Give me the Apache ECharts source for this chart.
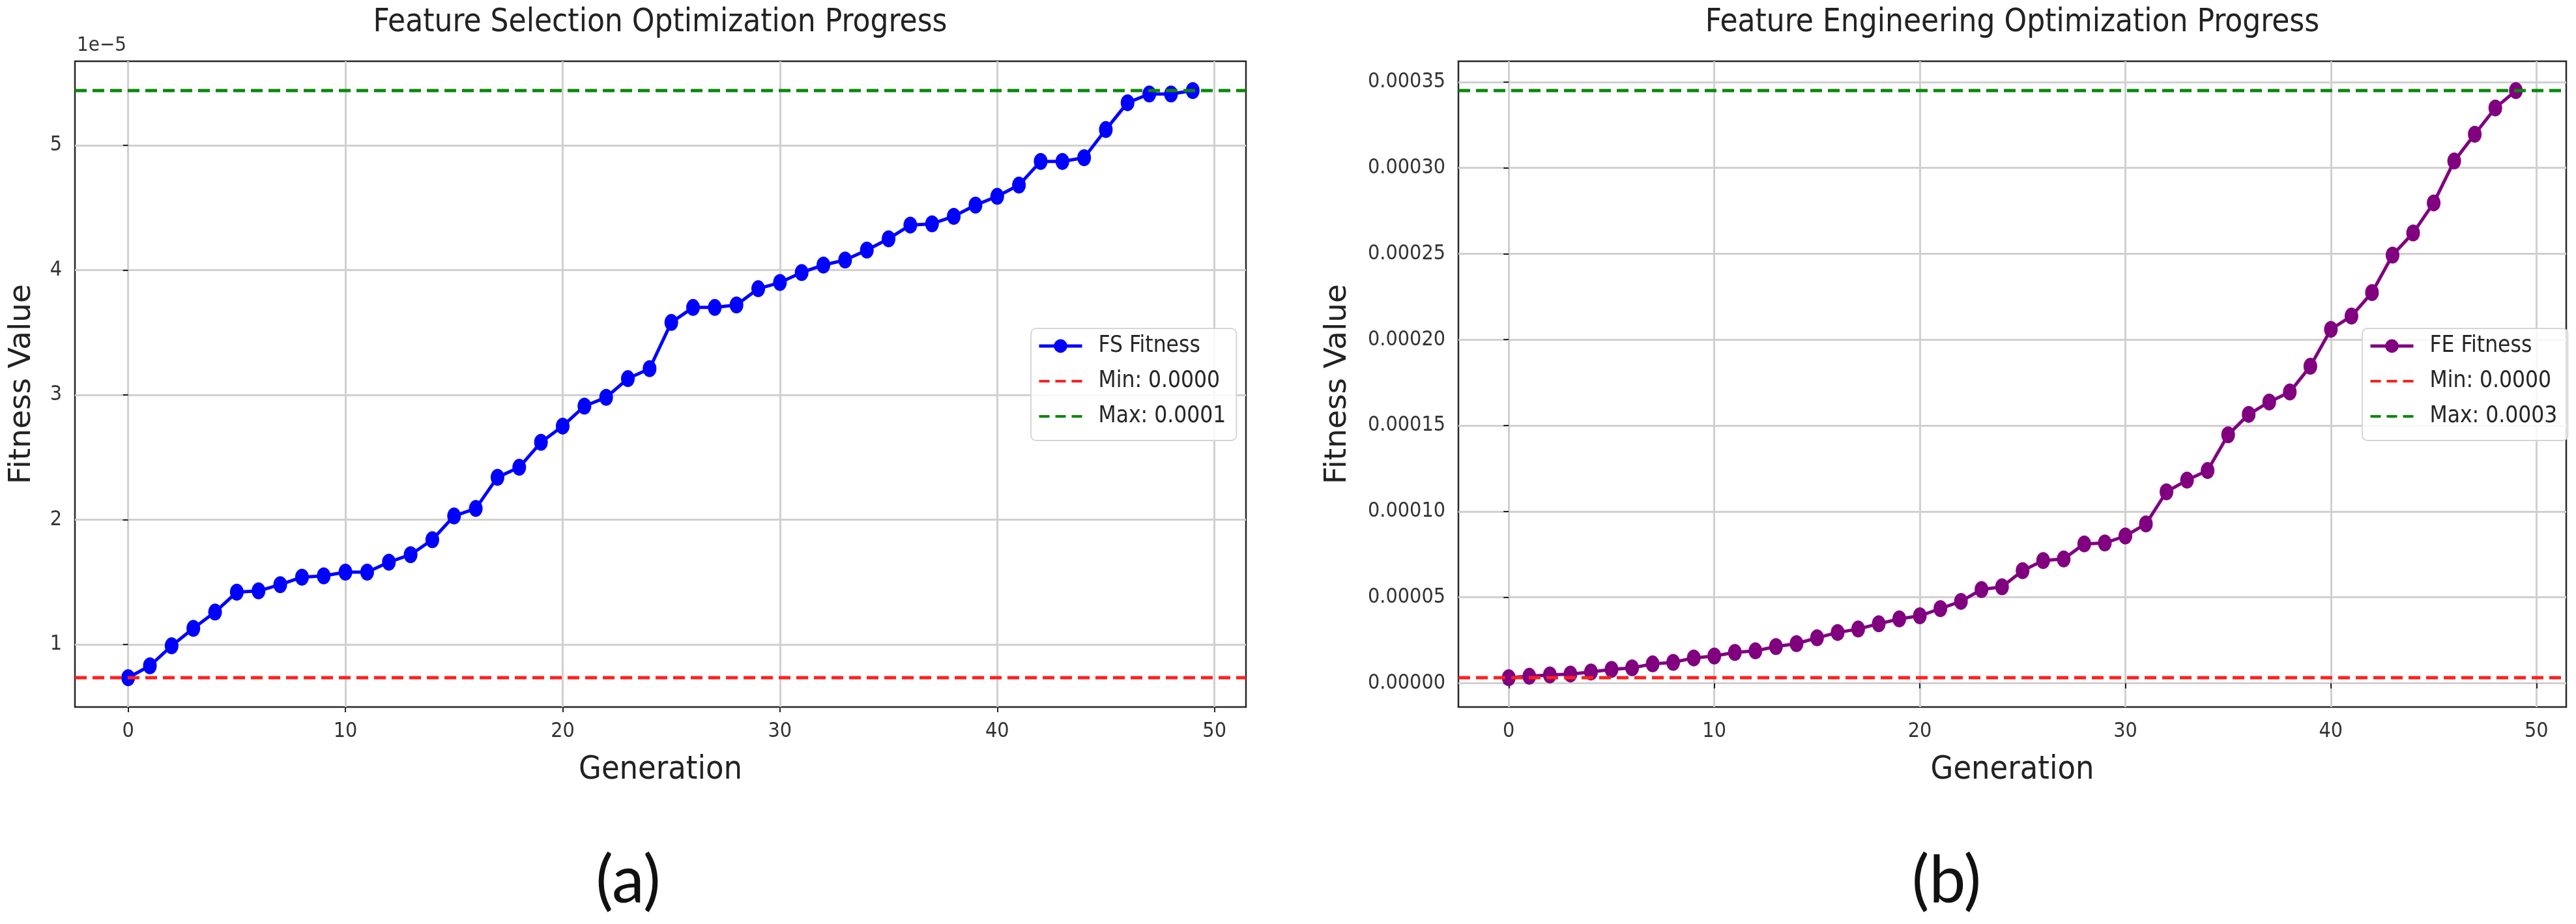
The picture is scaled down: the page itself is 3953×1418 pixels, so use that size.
<!DOCTYPE html>
<html>
<head>
<meta charset="utf-8">
<script src="https://cdn.jsdelivr.net/npm/echarts@6/dist/echarts.min.js"></script>
<style>
html,body{margin:0;padding:0;background:#ffffff;}
#chart{width:3953px;height:1418px;}
</style>
</head>
<body>
<div id="chart"></div>
<script>
// ---- data (fitness values in units of 1e-5) ----
const generations = [0,1,2,3,4,5,6,7,8,9,10,11,12,13,14,15,16,17,18,19,20,21,22,23,24,25,26,27,28,29,30,31,32,33,34,35,36,37,38,39,40,41,42,43,44,45,46,47,48,49];
const fsFitness = [0.735,0.83,0.99,1.13,1.26,1.42,1.43,1.48,1.54,1.55,1.58,1.58,1.66,1.72,1.84,2.03,2.09,2.34,2.42,2.62,2.75,2.91,2.98,3.13,3.21,3.58,3.70,3.70,3.72,3.85,3.90,3.98,4.04,4.08,4.16,4.25,4.36,4.37,4.43,4.52,4.59,4.68,4.87,4.87,4.90,5.125,5.34,5.41,5.41,5.437];
const feFitness = [0.32,0.40,0.48,0.53,0.65,0.80,0.89,1.12,1.21,1.47,1.58,1.79,1.88,2.13,2.30,2.64,2.95,3.15,3.46,3.74,3.92,4.34,4.76,5.45,5.61,6.55,7.14,7.23,8.11,8.16,8.57,9.27,11.14,11.82,12.38,14.46,15.65,16.37,16.95,18.45,20.6,21.37,22.74,24.92,26.21,27.96,30.40,31.96,33.49,34.5];
const xTicks = [0,10,20,30,40,50];
const fsYTicks = [1,2,3,4,5];
const feYTicks = [0,5,10,15,20,25,30,35];
const SCALE = 1e-5;
const fsName = 'FS Fitness';
const feName = 'FE Fitness';
const titles = ['Feature Selection Optimization Progress','Feature Engineering Optimization Progress'];
const panelLabels = ['(a)','(b)'];

// ---- derived ----
const XMIN = generations[0] - 0.05 * (generations[generations.length-1] - generations[0]);
const XMAX = generations[generations.length-1] + 0.05 * (generations[generations.length-1] - generations[0]);
function ext(arr){
  const lo = Math.min(...arr), hi = Math.max(...arr), p = 0.05*(hi-lo);
  return {lo, hi, min: lo - p, max: hi + p};
}
const fsE = ext(fsFitness), feE = ext(feFitness);
const fmt4 = v => (v*SCALE).toFixed(4);
const fsMinName = 'Min: ' + fmt4(fsE.lo), fsMaxName = 'Max: ' + fmt4(fsE.hi);
const feMinName = 'Min: ' + fmt4(feE.lo), feMaxName = 'Max: ' + fmt4(feE.hi);

const COND = '"DejaVu Sans Condensed", "DejaVu Sans", sans-serif';
const REG = '"DejaVu Sans", sans-serif';
const ELLIPSE = 'path://M0,-1A1,1,0,1,1,0,1A1,1,0,1,1,0,-1Z';
const DASH_ICON = 'path://M0,0h16v4h-16zM25,0h16v4h-16zM50,0h16v4h-16z';
const GRIDC = '#d0d0d0';
const RED = '#ff1f1f', GREEN = '#0a870a';

const grids = [
  {left:115, top:94, width:1797, height:991},
  {left:2238, top:94, width:1700, height:991}
];

function xAxisCfg(gi){
  return {
    gridIndex:gi, type:'value', min:XMIN, max:XMAX,
    axisLine:{show:false},
    axisTick:{show:true, customValues:xTicks, length:8, lineStyle:{color:'#222', width:2}},
    axisLabel:{customValues:xTicks, margin:22, fontSize:32, fontFamily:COND, color:'#333'},
    splitLine:{show:true, customValues:xTicks, lineStyle:{color:GRIDC, width:3}},
    name:'Generation', nameLocation:'middle', nameGap:72,
    nameTextStyle:{fontSize:50, fontFamily:COND, color:'#222'}
  };
}
function yAxisCfg(gi, e, ticks, formatter, gap){
  return {
    gridIndex:gi, type:'value', min:e.min, max:e.max,
    axisLine:{show:false},
    axisTick:{show:true, customValues:ticks, length:8, lineStyle:{color:'#222', width:2}},
    axisLabel:{customValues:ticks, margin:20, fontSize:32, fontFamily:COND, color:'#333', formatter},
    splitLine:{show:true, customValues:ticks, lineStyle:{color:GRIDC, width:3}},
    name:'Fitness Value', nameLocation:'middle', nameGap:gap,
    nameTextStyle:{fontSize:47, fontFamily:REG, color:'#222'}
  };
}

function mainSeries(name, arr, color, gi){
  return {
    name, type:'line', xAxisIndex:gi, yAxisIndex:gi,
    data: generations.map((g,i)=>[g, arr[i]]),
    symbol:ELLIPSE, symbolSize:[21,26],
    itemStyle:{color}, lineStyle:{color, width:5},
    z:3, silent:true
  };
}
function refSeries(name, val, color, gi){
  return {
    name, type:'line', xAxisIndex:gi, yAxisIndex:gi,
    data:[[XMIN,val],[XMAX,val]], symbol:'none', showSymbol:false,
    itemStyle:{color}, lineStyle:{color, width:5, type:[18,9]},
    z:4, silent:true
  };
}
function legendCfg(left, names){
  return {
    orient:'vertical', left, top:504, selectedMode:false,
    data:[
      {name:names[0], lineStyle:{width:5}},
      {name:names[1], icon:DASH_ICON, itemStyle:{color:RED}},
      {name:names[2], icon:DASH_ICON, itemStyle:{color:GREEN}}
    ],
    itemWidth:66, itemHeight:26, itemGap:12,
    padding:[6,16,16,10],
    backgroundColor:'rgba(255,255,255,0.85)', borderColor:'#d6d6d6', borderWidth:2, borderRadius:8,
    textStyle:{fontSize:35, fontFamily:COND, color:'#262626', lineHeight:42, padding:[0,0,0,20]}
  };
}

const chart = echarts.init(document.getElementById('chart'), null, {renderer:'canvas'});
chart.setOption({
  animation:false,
  backgroundColor:'#ffffff',
  textStyle:{fontFamily:COND},
  grid: grids.map(g => Object.assign({show:true, borderColor:'#262626', borderWidth:2.5, backgroundColor:'transparent'}, g)),
  xAxis:[xAxisCfg(0), xAxisCfg(1)],
  yAxis:[
    yAxisCfg(0, fsE, fsYTicks, v => String(Math.round(v)), 58),
    yAxisCfg(1, feE, feYTicks, v => (v*SCALE).toFixed(5), 162)
  ],
  legend:[
    legendCfg(1582, [fsName, fsMinName, fsMaxName]),
    legendCfg(3625, [feName, feMinName, feMaxName])
  ],
  series:[
    mainSeries(fsName, fsFitness, '#0000ff', 0),
    refSeries(fsMinName, fsE.lo, RED, 0),
    refSeries(fsMaxName, fsE.hi, GREEN, 0),
    mainSeries(feName, feFitness, '#800080', 1),
    refSeries(feMinName, feE.lo, RED, 1),
    refSeries(feMaxName, feE.hi, GREEN, 1)
  ],
  graphic:[
    {type:'text', x:1013, y:35, style:{text:titles[0], font:'49px '+COND, fill:'#222', align:'center', verticalAlign:'middle'}},
    {type:'text', x:3088, y:35, style:{text:titles[1], font:'49px '+COND, fill:'#222', align:'center', verticalAlign:'middle'}},
    {type:'text', x:118, y:70, style:{text:'1e\u22125', font:'31px '+COND, fill:'#333', align:'left', verticalAlign:'middle'}},
    {type:'text', x:964, y:1353, style:{text:panelLabels[0], font:'100px Lato, "Noto Sans", sans-serif', fill:'#111', align:'center', verticalAlign:'middle'}},
    {type:'text', x:2987, y:1353, style:{text:panelLabels[1], font:'100px Lato, "Noto Sans", sans-serif', fill:'#111', align:'center', verticalAlign:'middle'}}
  ]
});
</script>
</body>
</html>
